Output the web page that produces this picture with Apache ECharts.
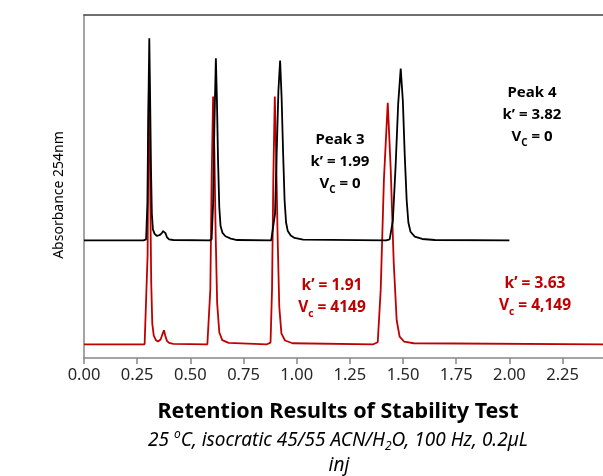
<!DOCTYPE html>
<html>
<head>
<meta charset="utf-8">
<script src="https://cdn.jsdelivr.net/npm/echarts@6/dist/echarts.min.js"></script>
<style>
  html, body { margin: 0; padding: 0; background: #fff; }
  #main { width: 603px; height: 476px; }
</style>
</head>
<body>
<div id="main"></div>
<script>
// chromatogram traces: [time (min), absorbance offset]
const stableTrace = [
  [0, 34.3], [0.28, 34.3], [0.292, 34.6], [0.298, 45], [0.302, 70], [0.307, 93.2], [0.311, 75],
  [0.315, 55], [0.319, 42], [0.324, 37.5], [0.332, 36.2], [0.342, 35.6], [0.355, 35.8],
  [0.366, 36.4], [0.372, 37.0], [0.377, 37.2], [0.383, 36.4], [0.390, 35.2], [0.400, 34.6],
  [0.42, 34.4], [0.59, 34.3], [0.600, 34.6], [0.607, 45], [0.613, 68], [0.620, 87.4],
  [0.625, 75], [0.630, 58], [0.636, 44], [0.642, 38.5], [0.651, 36.5], [0.665, 35.5],
  [0.690, 34.8], [0.72, 34.4], [0.88, 34.3], [0.889, 34.6], [0.898, 42], [0.906, 60],
  [0.914, 78], [0.922, 86.7], [0.929, 76], [0.936, 60], [0.943, 46], [0.950, 39.5],
  [0.958, 37], [0.972, 35.7], [0.99, 35], [1.03, 34.5], [1.42, 34.3], [1.437, 34.6],
  [1.452, 40], [1.465, 56], [1.477, 74], [1.489, 84.4], [1.499, 75], [1.508, 59],
  [1.517, 46], [1.525, 39.5], [1.535, 36.8], [1.555, 35.4], [1.59, 34.7], [1.65, 34.4],
  [2.0, 34.3]
]
const testTrace = [
  [0, 4], [0.285, 4], [0.294, 4.4], [0.299, 30], [0.303, 65], [0.306, 84], [0.309, 70],
  [0.312, 45], [0.316, 22], [0.321, 10], [0.328, 6.5], [0.338, 5.2], [0.348, 4.8],
  [0.360, 5.4], [0.368, 6.8], [0.376, 8.1], [0.382, 6.5], [0.390, 5], [0.40, 4.4],
  [0.42, 4.1], [0.58, 4], [0.587, 4.4], [0.594, 20], [0.600, 52], [0.607, 76.2], [0.613, 60],
  [0.619, 36], [0.626, 16], [0.636, 7.5], [0.650, 5.2], [0.68, 4.4], [0.86, 4], [0.877, 4.5],
  [0.884, 20], [0.890, 52], [0.897, 76.2], [0.903, 60], [0.910, 36], [0.918, 15],
  [0.928, 7.2], [0.945, 5.1], [0.98, 4.3], [1.36, 4], [1.381, 4.6], [1.395, 20],
  [1.410, 52], [1.428, 74.4], [1.442, 55], [1.456, 28], [1.470, 11], [1.484, 6.2],
  [1.505, 4.8], [1.55, 4.3], [2.44, 4]
]
const xTicks = [0, 0.25, 0.5, 0.75, 1.0, 1.25, 1.5, 1.75, 2.0, 2.25]

const red = '#C00000'
const txtFont = '"Noto Sans", sans-serif'

let myChart = echarts.init(document.getElementById('main'))

let subStyle = function (color) {
  return { fontSize: 10, fontWeight: 'bold', fontFamily: txtFont, fill: color, lineHeight: 10, verticalAlign: 'bottom' }
}

let option = {
  animation: false,
  grid: { left: 84, right: 0, top: 15, bottom: 118 },
  xAxis: [
    {
      type: 'value',
      min: 0,
      max: 2.44,
      interval: 0.25,
      splitLine: { show: false },
      axisLine: { lineStyle: { color: '#868686', width: 1.5 } },
      axisTick: { length: 6, lineStyle: { color: '#868686', width: 1.5 } },
      axisLabel: {
        margin: 9,
        fontSize: 16.5,
        fontFamily: txtFont,
        color: '#262626',
        showMaxLabel: false,
        formatter: function (v) {
          return xTicks.some(t => Math.abs(t - v) < 1e-6) ? v.toFixed(2) : ''
        }
      }
    },
    {
      type: 'value',
      position: 'top',
      min: 0,
      max: 2.44,
      axisLine: { show: true, lineStyle: { color: '#404040', width: 1.5 } },
      axisTick: { show: false },
      axisLabel: { show: false },
      splitLine: { show: false }
    }
  ],
  yAxis: {
    type: 'value',
    min: 0,
    max: 100,
    axisLine: { show: true, lineStyle: { color: '#868686', width: 1.5 } },
    axisTick: { show: false },
    axisLabel: { show: false },
    splitLine: { show: false }
  },
  series: [
    {
      name: 'test',
      type: 'line',
      data: testTrace,
      showSymbol: false,
      lineStyle: { color: red, width: 1.8 }
    },
    {
      name: 'stable',
      type: 'line',
      data: stableTrace,
      showSymbol: false,
      lineStyle: { color: '#000', width: 1.8 }
    }
  ],
  graphic: [
    {
      type: 'text', x: 59, y: 195, rotation: Math.PI / 2,
      style: { text: 'Absorbance 254nm', fontSize: 14, fontFamily: txtFont, fill: '#000', align: 'center', verticalAlign: 'middle' }
    },
    {
      type: 'text', x: 340, y: 129,
      style: {
        text: 'Peak 3\nk’ = 1.99\nV{s|C} = 0',
        fontSize: 15, fontWeight: 'bold', fontFamily: txtFont, fill: '#000',
        lineHeight: 22, align: 'center', verticalAlign: 'top',
        rich: { s: subStyle('#000') }
      }
    },
    {
      type: 'text', x: 532, y: 82,
      style: {
        text: 'Peak 4\nk’ = 3.82\nV{s|C} = 0',
        fontSize: 15, fontWeight: 'bold', fontFamily: txtFont, fill: '#000',
        lineHeight: 22, align: 'center', verticalAlign: 'top',
        rich: { s: subStyle('#000') }
      }
    },
    {
      type: 'text', x: 332, y: 275,
      style: {
        text: 'k’ = 1.91\nV{s|c} = 4149',
        fontSize: 15.5, fontWeight: 'bold', fontFamily: txtFont, fill: red,
        lineHeight: 22, align: 'center', verticalAlign: 'top',
        rich: { s: subStyle(red) }
      }
    },
    {
      type: 'text', x: 535, y: 273,
      style: {
        text: 'k’ = 3.63\nV{s|c} = 4,149',
        fontSize: 15.5, fontWeight: 'bold', fontFamily: txtFont, fill: red,
        lineHeight: 22, align: 'center', verticalAlign: 'top',
        rich: { s: subStyle(red) }
      }
    },
    {
      type: 'text', x: 338, y: 412,
      style: { text: 'Retention Results of Stability Test', fontSize: 21.5, fontWeight: 'bold', fontFamily: txtFont, fill: '#000', align: 'center', verticalAlign: 'middle' }
    },
    {
      type: 'text', x: 338, y: 429,
      style: {
        text: '25 {sup|o}C, isocratic 45/55 ACN/H{sub|2}O, 100 Hz, 0.2µL',
        fontSize: 19, fontStyle: 'italic', fontFamily: txtFont, fill: '#000',
        lineHeight: 24, align: 'center', verticalAlign: 'top',
        rich: {
          sup: { fontSize: 12, fontStyle: 'italic', fontFamily: txtFont, fill: '#000', lineHeight: 14, verticalAlign: 'top' },
          sub: { fontSize: 12, fontStyle: 'italic', fontFamily: txtFont, fill: '#000', lineHeight: 12, verticalAlign: 'bottom' }
        }
      }
    },
    {
      type: 'text', x: 339, y: 466,
      style: { text: 'inj', fontSize: 19, fontStyle: 'italic', fontFamily: txtFont, fill: '#000', align: 'center', verticalAlign: 'middle' }
    }
  ]
}
myChart.setOption(option)
</script>
</body>
</html>
